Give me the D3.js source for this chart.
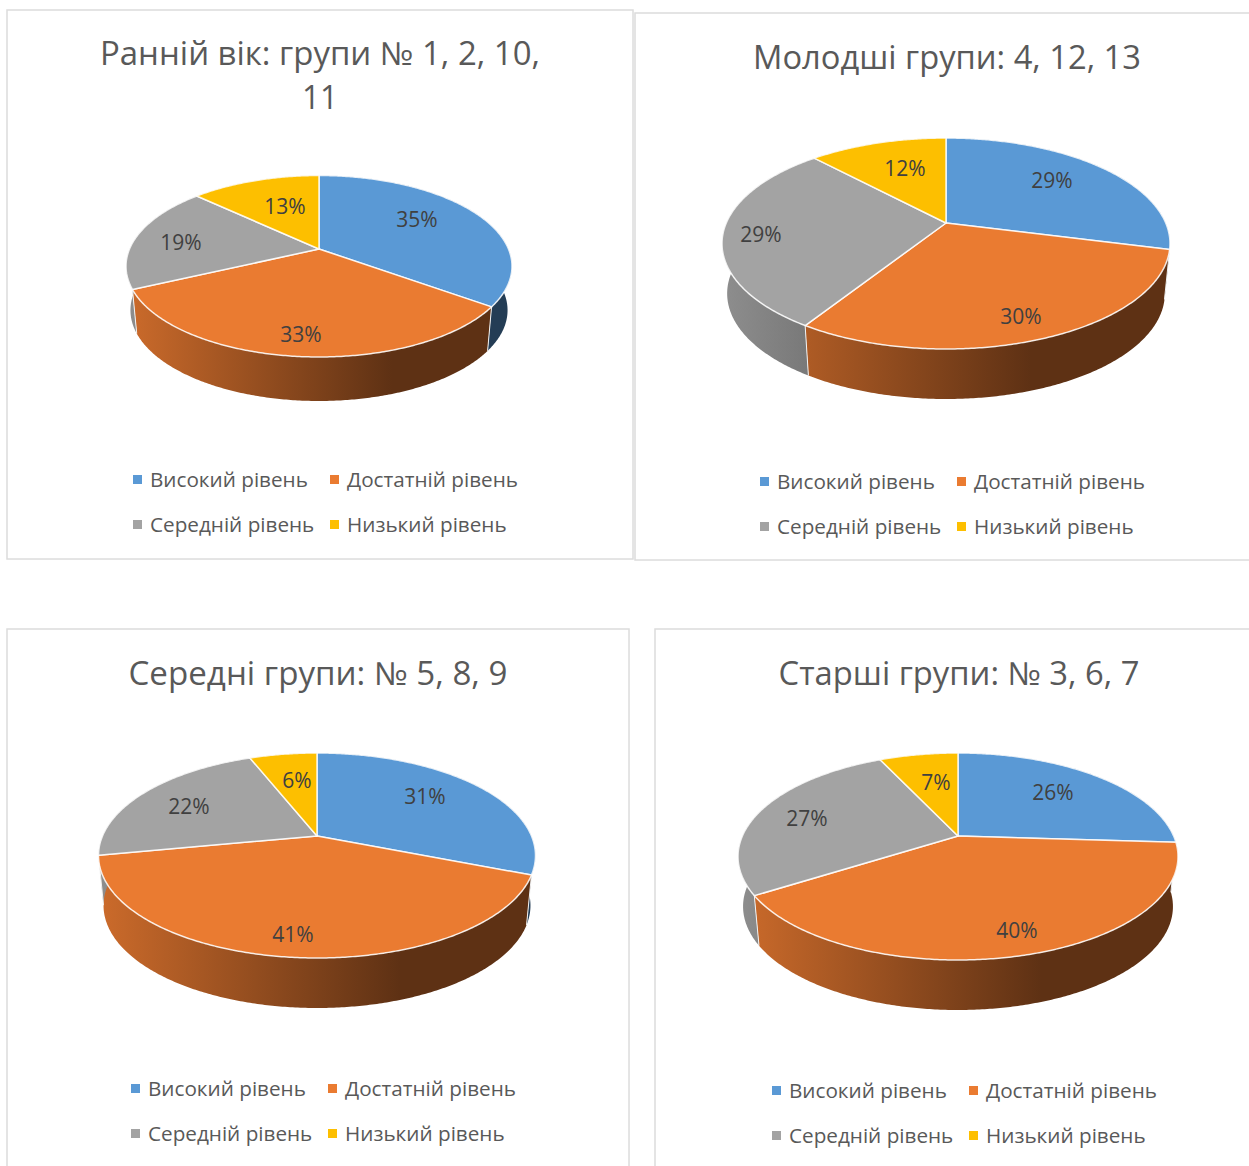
<!DOCTYPE html>
<html>
<head>
<meta charset="utf-8">
<script src="https://cdn.jsdelivr.net/npm/d3@7"></script>
<style>
  html, body { margin: 0; padding: 0; background: #fff; }
  svg { display: block; }
  text { font-family: "Open Sans", "Noto Sans", sans-serif; }
</style>
</head>
<body>
<svg id="chart" width="1249" height="1166"></svg>
<script>
// data
const levels = ["Високий рівень", "Достатній рівень", "Середній рівень", "Низький рівень"]
const levelColors = ["#5A99D5", "#EA7B31", "#A3A3A3", "#FDBF00"]

const earlyValues = [35, 33, 19, 13]
const youngerValues = [29, 30, 29, 12]
const middleValues = [31, 41, 22, 6]
const olderValues = [26, 40, 27, 7]

const earlyTitle = ["Ранній вік: групи № 1, 2, 10,", "11"]
const youngerTitle = ["Молодші групи: 4, 12, 13"]
const middleTitle = ["Середні групи: № 5, 8, 9"]
const olderTitle = ["Старші групи: № 3, 6, 7"]

// layout of each panel, px
const panels = [
    {
        values: earlyValues, title: earlyTitle,
        box: [7, 10, 626, 549], titleX: 320, titleY: [65, 109], titleW: [440, 36],
        cx: 319, apexY: 249, top: 175.5, bottom: 357, halfW: 193, depth: 44,
        legendX: [133, 330], legendY: [480, 525],
        labels: [[98, -29], [-18, 86], [-138, -6], [-34, -42]]
    },
    {
        values: youngerValues, title: youngerTitle,
        box: [635, 13, 630, 547], titleX: 947, titleY: [69], titleW: [388],
        cx: 946, apexY: 223, top: 138, bottom: 349, halfW: 224, depth: 50,
        legendX: [760, 957], legendY: [482, 527],
        labels: [[106, -42], [75, 94], [-185, 12], [-41, -54]]
    },
    {
        values: middleValues, title: middleTitle,
        box: [7, 629, 622, 560], titleX: 318, titleY: [685], titleW: [379],
        cx: 317, apexY: 836, top: 753, bottom: 958, halfW: 218.5, depth: 50,
        legendX: [131, 328], legendY: [1089, 1134],
        labels: [[108, -39], [-24, 99], [-128, -29], [-20, -55]]
    },
    {
        values: olderValues, title: olderTitle,
        box: [655, 629, 610, 560], titleX: 959, titleY: [685], titleW: [361],
        cx: 958, apexY: 836, top: 753, bottom: 960, halfW: 220, depth: 50,
        legendX: [772, 969], legendY: [1091, 1136],
        labels: [[95, -43], [59, 95], [-151, -17], [-22, -53]]
    }
]

const svg = d3.select("#chart")
const defs = svg.append("defs")
const color = d3.scaleOrdinal().domain(levels).range(levelColors)
const pie = d3.pie().sort(null)
const line = d3.line()

const shade = function(c, k) {
    const rgb = d3.rgb(c)
    return d3.rgb(rgb.r * k, rgb.g * k, rgb.b * k).formatHex()
}

panels.forEach((p, pi) => {
    const group = svg.append("g")

    group.append("rect")
        .attr("x", p.box[0])
        .attr("y", p.box[1])
        .attr("width", p.box[2])
        .attr("height", p.box[3])
        .attr("fill", "#fff")
        .attr("stroke", "#dcdcdc")
        .attr("stroke-width", 1.5)

    group.selectAll(".title")
        .data(p.title)
        .enter()
        .append("text")
            .attr("class", "title")
            .attr("x", p.titleX)
            .attr("y", (d, i) => p.titleY[i])
            .attr("text-anchor", "middle")
            .attr("font-size", 32)
            .attr("fill", "#595959")
            .attr("textLength", (d, i) => p.titleW[i])
            .attr("lengthAdjust", "spacingAndGlyphs")
            .text(d => d)

    // a tilted disc seen in perspective: the apex sits above the middle of the ellipse
    const up = p.apexY - p.top
    const down = p.bottom - p.apexY
    const c = (up - down) / (up + down)
    const a = down * (1 + c)
    const R = p.halfW * Math.sqrt(1 - c * c)

    const project = function(angle, f) {
        const u = Math.sin(angle) * f
        const v = -Math.cos(angle) * f
        const w = 1 + c * v
        return [p.cx + R * u / w, p.apexY + a * v / w]
    }
    const lower = function(pt) {
        return [p.cx + (pt[0] - p.cx) * 0.977, pt[1] + p.depth]
    }
    const arcPoints = function(d) {
        const n = Math.ceil((d.endAngle - d.startAngle) / 0.01)
        return d3.range(n + 1).map(i => project(d.startAngle + (d.endAngle - d.startAngle) * i / n, 1))
    }

    const slices = pie(p.values)

    const gradient = (d, i) => {
        const id = `wall-${pi}-${i}`
        const grad = defs.append("linearGradient")
            .attr("id", id)
            .attr("gradientUnits", "userSpaceOnUse")
            .attr("x1", p.cx - p.halfW)
            .attr("x2", p.cx + p.halfW)
            .attr("y1", 0)
            .attr("y2", 0)
        const base = color(levels[i])
        grad.append("stop").attr("offset", 0).attr("stop-color", shade(base, 0.87))
        grad.append("stop").attr("offset", 0.69).attr("stop-color", shade(base, 0.4))
        grad.append("stop").attr("offset", 1).attr("stop-color", shade(base, 0.4))
        return `url(#${id})`
    }

    // walls first, the top surface covers whatever is at the back
    group.selectAll(".wall")
        .data(slices)
        .enter()
        .append("path")
            .attr("class", "wall")
            .attr("d", d => {
                const ring = arcPoints(d)
                return line(ring.concat(ring.map(lower).reverse())) + "Z"
            })
            .attr("fill", gradient)

    group.selectAll(".wall-edge")
        .data(slices)
        .enter()
        .append("path")
            .attr("class", "wall-edge")
            .attr("d", d => {
                const pt = project(d.startAngle, 1)
                return line([pt, lower(pt)])
            })
            .attr("stroke", "#f2f2f2")
            .attr("stroke-width", 1)
            .attr("fill", "none")

    group.selectAll(".slice")
        .data(slices)
        .enter()
        .append("path")
            .attr("class", "slice")
            .attr("d", d => line([project(0, 0)].concat(arcPoints(d))) + "Z")
            .attr("fill", (d, i) => color(levels[i]))
            .attr("stroke", "#fff")
            .attr("stroke-opacity", 0.85)
            .attr("stroke-width", 1.5)
            .attr("stroke-linejoin", "round")

    group.selectAll(".value")
        .data(slices)
        .enter()
        .append("text")
            .attr("class", "value")
            .attr("x", (d, i) => p.cx + p.labels[i][0])
            .attr("y", (d, i) => p.apexY + p.labels[i][1] + 7)
            .attr("text-anchor", "middle")
            .attr("font-size", 21)
            .attr("fill", "#404040")
            .text(d => d.value + "%")

    const legend = group.selectAll(".legend")
        .data(levels)
        .enter()
        .append("g")
            .attr("class", "legend")
            .attr("transform", (d, i) => `translate(${p.legendX[i % 2]}, ${p.legendY[Math.floor(i / 2)]})`)

    legend.append("rect")
        .attr("x", 0)
        .attr("y", -5)
        .attr("width", 9)
        .attr("height", 9)
        .attr("fill", d => color(d))

    legend.append("text")
        .attr("x", 17)
        .attr("y", 7)
        .attr("font-size", 20.7)
        .attr("fill", "#595959")
        .text(d => d)
})
</script>
</body>
</html>
